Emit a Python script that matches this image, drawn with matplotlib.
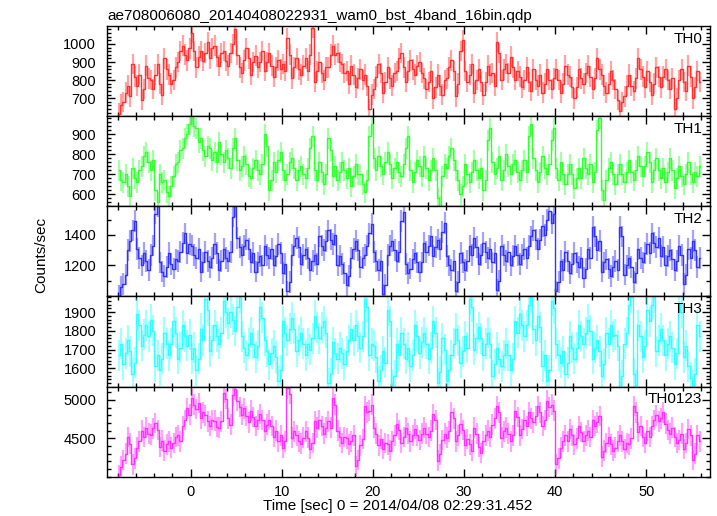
import numpy as np
import matplotlib
matplotlib.use('Agg')
import matplotlib.pyplot as plt
from matplotlib.ticker import MultipleLocator, FixedLocator

plt.rcParams['font.family'] = ['Liberation Sans', 'DejaVu Sans']

# light curves, 0.25 s bins starting at t = -7.875 s
t_first = -7.875
bin_w = 0.25

th0 = [615, 665, 680, 730, 770, 710, 890, 820, 770, 830, 690, 750, 880, 810, 800, 750,
       830, 890, 780, 720, 920, 860, 830, 780, 800, 870, 900, 960, 990, 940, 910, 975,
       1060, 960, 870, 930, 960, 905, 950, 1010, 920, 975, 990, 930, 880, 950, 960, 905,
       880, 950, 1000, 1080, 940, 870, 840, 910, 975, 920, 830, 900, 935, 870, 900, 960,
       850, 900, 950, 880, 820, 870, 910, 860, 890, 850, 1030, 940, 810, 870, 920, 860,
       830, 880, 920, 850, 940, 1090, 790, 850, 900, 840, 800, 870, 870, 940, 990, 940,
       950, 900, 890, 840, 850, 780, 880, 830, 760, 810, 860, 800, 830, 770, 640, 720,
       750, 820, 890, 840, 730, 790, 870, 810, 770, 840, 850, 920, 950, 870, 790, 850,
       910, 860, 830, 880, 900, 840, 810, 750, 790, 850, 700, 760, 830, 770, 720, 800,
       810, 870, 910, 850, 710, 780, 960, 1020, 850, 790, 830, 890, 730, 800, 860, 790,
       720, 790, 880, 830, 840, 770, 1010, 950, 800, 860, 890, 840, 930, 870, 800, 850,
       820, 760, 800, 870, 790, 740, 860, 800, 770, 830, 730, 780, 860, 800, 750, 810,
       860, 800, 730, 780, 880, 830, 820, 760, 700, 760, 860, 810, 780, 840, 880, 820,
       750, 810, 920, 860, 830, 770, 730, 780, 850, 800, 750, 690, 630, 680, 710, 770,
       830, 770, 740, 810, 920, 860, 820, 760, 850, 790, 720, 780, 870, 820, 760, 820,
       860, 800, 750, 810, 640, 700, 800, 860, 790, 740, 880, 820, 700, 760, 850, 790]

th1 = [720, 670, 660, 700, 640, 590, 730, 680, 660, 720, 740, 790, 810, 760, 720, 770,
       620, 560, 700, 660, 670, 610, 590, 640, 690, 750, 760, 820, 830, 880, 900, 950,
       990, 940, 930, 860, 880, 820, 790, 840, 830, 770, 810, 760, 860, 800, 760, 820,
       780, 730, 830, 880, 770, 720, 740, 790, 750, 690, 680, 730, 770, 720, 700, 750,
       900, 840, 620, 670, 760, 710, 770, 810, 720, 670, 700, 760, 780, 730, 670, 720,
       740, 700, 680, 730, 830, 890, 720, 670, 760, 710, 650, 700, 880, 820, 690, 740,
       670, 710, 760, 720, 680, 730, 640, 690, 750, 700, 700, 650, 610, 670, 890, 950,
       780, 720, 790, 740, 700, 760, 810, 750, 680, 730, 760, 710, 690, 750, 830, 890,
       720, 660, 710, 770, 740, 690, 790, 730, 670, 720, 780, 720, 580, 540, 690, 750,
       730, 790, 830, 770, 720, 670, 600, 640, 750, 700, 660, 710, 770, 720, 680, 730,
       620, 670, 870, 930, 760, 700, 730, 790, 670, 720, 800, 740, 700, 750, 770, 710,
       670, 720, 770, 710, 890, 950, 780, 720, 660, 710, 790, 730, 700, 750, 870, 930,
       730, 670, 760, 700, 650, 700, 750, 700, 630, 680, 730, 680, 780, 730, 700, 750,
       660, 710, 920, 980, 620, 570, 670, 730, 760, 700, 650, 700, 750, 700, 660, 710,
       770, 710, 670, 720, 790, 740, 690, 740, 810, 760, 660, 720, 780, 720, 680, 730,
       660, 710, 780, 720, 630, 680, 740, 690, 650, 700, 760, 700, 660, 710, 690, 740]

th2 = [1000, 1060, 1080, 1140, 1300, 1360, 1430, 1490, 1310, 1250, 1200, 1280, 1230, 1170, 1270, 1330,
       1540, 1590, 1220, 1160, 1130, 1190, 1280, 1210, 1180, 1240, 1230, 1290, 1350, 1410, 1280, 1340,
       1330, 1270, 1250, 1310, 1160, 1220, 1290, 1230, 1190, 1250, 1340, 1280, 1170, 1230, 1310, 1250,
       1230, 1290, 1520, 1590, 1380, 1320, 1270, 1330, 1370, 1310, 1220, 1280, 1160, 1220, 1260, 1200,
       1330, 1270, 1250, 1310, 1200, 1260, 1340, 1280, 1150, 1210, 1030, 1090, 1270, 1330, 1380, 1320,
       1210, 1270, 1310, 1250, 1170, 1230, 1270, 1210, 1390, 1330, 1300, 1360, 1430, 1370, 1340, 1400,
       1200, 1260, 1210, 1150, 1070, 1130, 1250, 1310, 1360, 1300, 1190, 1250, 1270, 1330, 1410, 1470,
       1290, 1230, 1170, 1230, 1010, 1070, 1270, 1330, 1360, 1300, 1230, 1290, 1490, 1550, 1210, 1150,
       1180, 1240, 1280, 1220, 1160, 1220, 1350, 1290, 1330, 1390, 1260, 1320, 1370, 1310, 1420, 1480,
       1260, 1200, 1170, 1230, 1030, 1090, 1280, 1220, 1170, 1230, 1330, 1270, 1380, 1320, 1210, 1270,
       1350, 1290, 1250, 1310, 1220, 1280, 1040, 1100, 1330, 1270, 1230, 1290, 1200, 1260, 1330, 1270,
       1210, 1270, 1310, 1250, 1330, 1390, 1430, 1370, 1310, 1370, 1460, 1400, 1500, 1560, 1480, 1540,
       1030, 1090, 1230, 1170, 1290, 1230, 1150, 1210, 1280, 1220, 1190, 1250, 1120, 1180, 1310, 1250,
       1450, 1390, 1300, 1360, 1160, 1220, 1240, 1180, 1130, 1190, 1230, 1170, 1450, 1390, 1140, 1200,
       1250, 1190, 1090, 1150, 1310, 1250, 1220, 1280, 1340, 1280, 1410, 1350, 1320, 1380, 1260, 1320,
       1200, 1260, 1300, 1240, 1170, 1230, 1330, 1270, 1080, 1140, 1310, 1250, 1360, 1300, 1190, 1250]

th3 = [1670, 1730, 1620, 1680, 1750, 1690, 1570, 1630, 1890, 1830, 1720, 1780, 1830, 1770, 1860, 1800,
       1610, 1670, 1590, 1650, 1790, 1730, 1670, 1730, 1850, 1790, 1650, 1710, 1830, 1770, 1720, 1780,
       1650, 1710, 1590, 1650, 1810, 1750, 1970, 1910, 1690, 1750, 1830, 1770, 1730, 1790, 1960, 1900,
       1840, 1900, 1860, 1800, 1930, 1980, 1770, 1710, 1670, 1730, 1790, 1730, 1660, 1720, 1930, 1870,
       1750, 1690, 1620, 1680, 1720, 1660, 1530, 1590, 1850, 1790, 1750, 1810, 1870, 1810, 1690, 1750,
       1790, 1730, 1670, 1730, 1700, 1760, 1880, 1820, 1760, 1820, 1850, 1790, 1520, 1570, 1740, 1680,
       1650, 1710, 1680, 1620, 1690, 1750, 1810, 1750, 1830, 1770, 1710, 1770, 1970, 1930, 1670, 1730,
       1720, 1660, 1530, 1590, 1690, 1630, 1910, 1850, 1510, 1560, 1730, 1670, 1790, 1730, 1650, 1710,
       1610, 1670, 1830, 1770, 1680, 1740, 1790, 1730, 1650, 1710, 1850, 1790, 1520, 1580, 1760, 1700,
       1530, 1590, 1670, 1730, 1810, 1750, 1630, 1690, 1770, 1710, 1970, 1930, 1700, 1760, 1820, 1760,
       1670, 1730, 1790, 1730, 1560, 1620, 1710, 1650, 1610, 1670, 1730, 1670, 1590, 1650, 1850, 1790,
       1890, 1830, 1770, 1830, 1940, 1980, 1810, 1750, 1880, 1820, 1610, 1670, 1530, 1590, 1960, 1920,
       1730, 1670, 1630, 1690, 1570, 1630, 1770, 1710, 1650, 1710, 1830, 1770, 1730, 1790, 1860, 1800,
       1650, 1710, 1750, 1690, 1560, 1620, 1790, 1730, 1830, 1770, 1780, 1720, 1510, 1560, 1730, 1790,
       1940, 1980, 1570, 1510, 1830, 1770, 1660, 1720, 1910, 1850, 1940, 1980, 1690, 1750, 1810, 1750,
       1670, 1730, 1770, 1710, 1620, 1680, 1950, 1900, 1660, 1720, 1610, 1550, 1510, 1570, 1830, 1770]

th0123 = [4020, 4130, 4220, 4300, 4520, 4430, 4160, 4240, 4380, 4460, 4600, 4520, 4640, 4560, 4550, 4630,
          4700, 4610, 4390, 4470, 4340, 4420, 4460, 4380, 4440, 4520, 4540, 4460, 4660, 4740, 4890, 4810,
          5030, 4940, 4880, 4960, 4760, 4840, 4800, 4720, 4660, 4740, 4730, 4650, 4640, 4720, 5090, 5010,
          4760, 4680, 5060, 5140, 4990, 4910, 4810, 4890, 4790, 4710, 4860, 4780, 4660, 4740, 4820, 4740,
          4600, 4680, 4740, 4660, 4520, 4600, 4460, 4540, 4380, 4460, 5150, 5080, 4510, 4590, 4540, 4460,
          4430, 4510, 4590, 4510, 4360, 4440, 4720, 4640, 4740, 4660, 4560, 4640, 4720, 4640, 5020, 4940,
          4600, 4520, 4440, 4520, 4500, 4420, 4460, 4540, 4140, 4220, 4410, 4490, 4920, 4840, 4860, 4940,
          4640, 4560, 4410, 4490, 4360, 4440, 4420, 4340, 4460, 4540, 4690, 4610, 4440, 4520, 4640, 4560,
          4460, 4540, 4620, 4540, 4480, 4560, 4640, 4560, 4520, 4600, 4820, 4740, 4210, 4290, 4480, 4560,
          4510, 4590, 4840, 4760, 4460, 4540, 4690, 4610, 4410, 4490, 4420, 4340, 4640, 4560, 4390, 4310,
          4460, 4540, 4600, 4520, 4680, 4760, 4920, 4840, 4510, 4590, 4640, 4560, 4460, 4540, 4860, 4780,
          4540, 4620, 4740, 4660, 4840, 4760, 4710, 4790, 4920, 4840, 4660, 4740, 4990, 4910, 4940, 4860,
          4160, 4240, 4380, 4460, 4540, 4460, 4620, 4540, 4420, 4500, 4660, 4580, 4460, 4540, 4600, 4520,
          4740, 4660, 4710, 4790, 4260, 4340, 4440, 4520, 4420, 4340, 4380, 4460, 4540, 4460, 4360, 4440,
          4420, 4500, 4920, 4840, 4580, 4660, 4520, 4440, 4600, 4520, 4660, 4740, 4800, 4720, 4760, 4840,
          4690, 4610, 4560, 4640, 4520, 4440, 4480, 4560, 4360, 4440, 4620, 4540, 4220, 4300, 4540, 4460]

band_names = ['TH0', 'TH1', 'TH2', 'TH3', 'TH0123']
band_errs = [57, 53, 71, 83, 134]
band_colors = ['#ff3333', '#33ff33', '#3333ff', '#33ffff', '#ff33ff']
band_ylims = [(601, 1099), (540, 990), (997, 1588), (1502, 1984), (4000, 5175)]
band_ticks = [[700, 800, 900, 1000], [600, 700, 800, 900], [1200, 1400],
              [1600, 1700, 1800, 1900], [4500, 5000]]
band_minor = [20, 20, 100, 20, 100]
series = [th0, th1, th2, th3, th0123]

fig = plt.figure(figsize=(7.17, 5.16), dpi=100)
W, H = 717.0, 516.0
left_px, right_px = 107.3, 710.0
top_px, bot_px = 26.0, 476.7
ph = (bot_px - top_px) / 5

for i in range(5):
    vals = np.array(series[i])
    time = t_first + bin_w * np.arange(len(vals))
    b = 1 - (top_px + ph * (i + 1)) / H
    ax = fig.add_axes([left_px / W, b, (right_px - left_px) / W, ph / H])
    col = band_colors[i]
    ax.errorbar(time, vals, yerr=band_errs[i], fmt='none', ecolor=col,
                elinewidth=1.6, alpha=0.45, capsize=0)
    ax.step(time, vals, where='mid', color=col, lw=1.0)
    ax.set_xlim(-9.15, 57.0)
    ax.set_ylim(*band_ylims[i])
    ax.yaxis.set_major_locator(FixedLocator(band_ticks[i]))
    ax.yaxis.set_minor_locator(MultipleLocator(band_minor[i]))
    ax.xaxis.set_major_locator(MultipleLocator(10))
    ax.xaxis.set_minor_locator(MultipleLocator(2))
    ax.tick_params(which='both', direction='in', top=True, right=True,
                   labelsize=10.5, width=1)
    ax.tick_params(which='major', length=6)
    ax.tick_params(which='minor', length=3)
    ax.tick_params(axis='y', pad=8)
    ax.tick_params(axis='x', pad=6)
    if i < 4:
        ax.tick_params(labelbottom=False)
    for s in ax.spines.values():
        s.set_linewidth(1)
    ax.text(0.987, 0.935, band_names[i], transform=ax.transAxes,
            ha='right', va='top', fontsize=11)

fig.text(left_px / W, 1 - 20 / H, 'ae708006080_20140408022931_wam0_bst_4band_16bin.qdp',
         ha='left', va='baseline', fontsize=11)
fig.text(397.5 / W, 1 - 510 / H, 'Time [sec] 0 = 2014/04/08 02:29:31.452',
         ha='center', va='baseline', fontsize=11)
fig.text(41 / W, 1 - 255 / H, 'Counts/sec', rotation=90,
         ha='center', va='center', fontsize=11)

fig.savefig('out.png', dpi=100)
